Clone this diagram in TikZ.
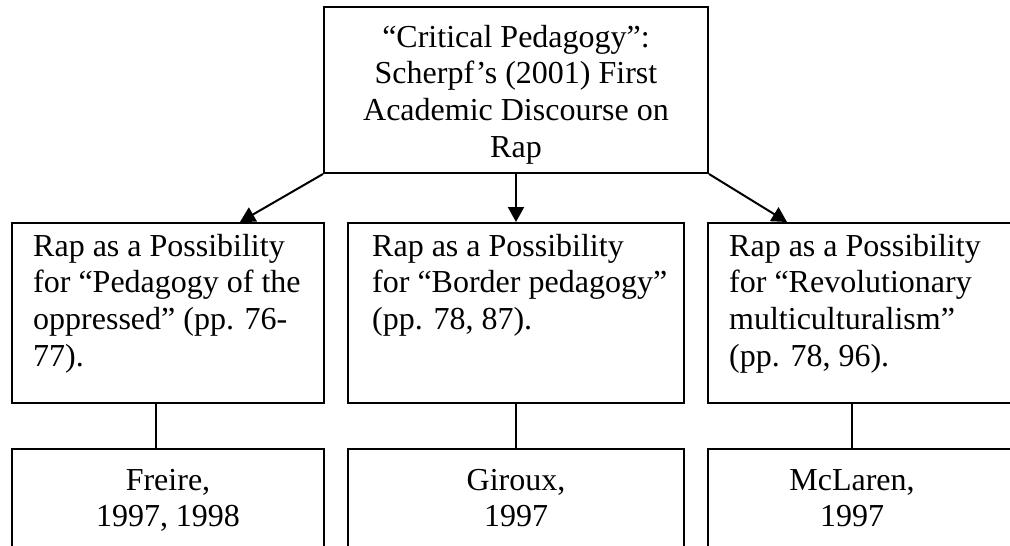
\documentclass[tikz,border=0pt]{standalone}
\usepackage{fontspec}
\setmainfont{Liberation Serif}
\usetikzlibrary{arrows.meta}
\begin{document}
\begin{tikzpicture}[x=1pt,y=-1pt,
  box/.style={draw, line width=2pt, inner sep=0pt},
  txt/.style={inner sep=0pt, font=\fontsize{32}{36.8}\selectfont},
  arrowline/.style={line width=2pt, -{Triangle[length=15pt,width=16pt]}},
  link/.style={line width=1.3pt}]
\useasboundingbox (0,0) rectangle (1010,546);
\clip (0,0) rectangle (1010,546);

% top box
\node[box, minimum width=384pt, minimum height=166pt] (top) at (516,90) {};
\node[txt, anchor=north, align=center] (toptxt) at (516,21.2)
  {\strut “Critical Pedagogy”:\\Scherpf’s (2001) First\\Academic Discourse on\\Rap};

% second row
\node[box, minimum width=312pt, minimum height=180pt] (l2) at (168,313) {};
\node[box, minimum width=336pt, minimum height=180pt] (m2) at (516,313) {};
\node[box, minimum width=336pt, minimum height=180pt] (r2) at (876,313) {};
\node[txt, anchor=north west, align=left] (l2txt) at (33,230.2)
  {\strut Rap as a Possibility\\for “Pedagogy of the\\oppressed” (pp. 76-\\77).};
\node[txt, anchor=north west, align=left] (m2txt) at (372,230.2)
  {\strut Rap as a Possibility\\for “Border pedagogy”\\(pp. 78, 87).};
\node[txt, anchor=north west, align=left] (r2txt) at (729,230.2)
  {\strut Rap as a Possibility\\for “Revolutionary\\multiculturalism”\\(pp. 78, 96).};

% third row
\node[box, minimum width=312pt, minimum height=171pt] (l3) at (168,534.5) {};
\node[box, minimum width=336pt, minimum height=171pt] (m3) at (516,534.5) {};
\node[box, minimum width=336pt, minimum height=171pt] (r3) at (876,534.5) {};
\node[txt, anchor=north, align=center] (l3txt) at (168,464.2) {\strut Freire,\\1997, 1998};
\node[txt, anchor=north, align=center] (m3txt) at (516,464.2) {\strut Giroux,\\1997};
\node[txt, anchor=north, align=center] (r3txt) at (852,464.2) {\strut McLaren,\\1997};

% arrows from the top box
\draw[arrowline] (top.south west) -- (l2.north -| 240,0);
\draw[arrowline] (top.south) -- (m2.north);
\draw[arrowline] (top.south east) -- (r2.north -| 787,0);

% plain links to the authors
\draw[link] (l2.south -| 156,0) -- (l3.north -| 156,0);
\draw[link] (m2.south) -- (m3.north);
\draw[link] (r2.south -| 852,0) -- (r3.north -| 852,0);
\end{tikzpicture}
\end{document}
